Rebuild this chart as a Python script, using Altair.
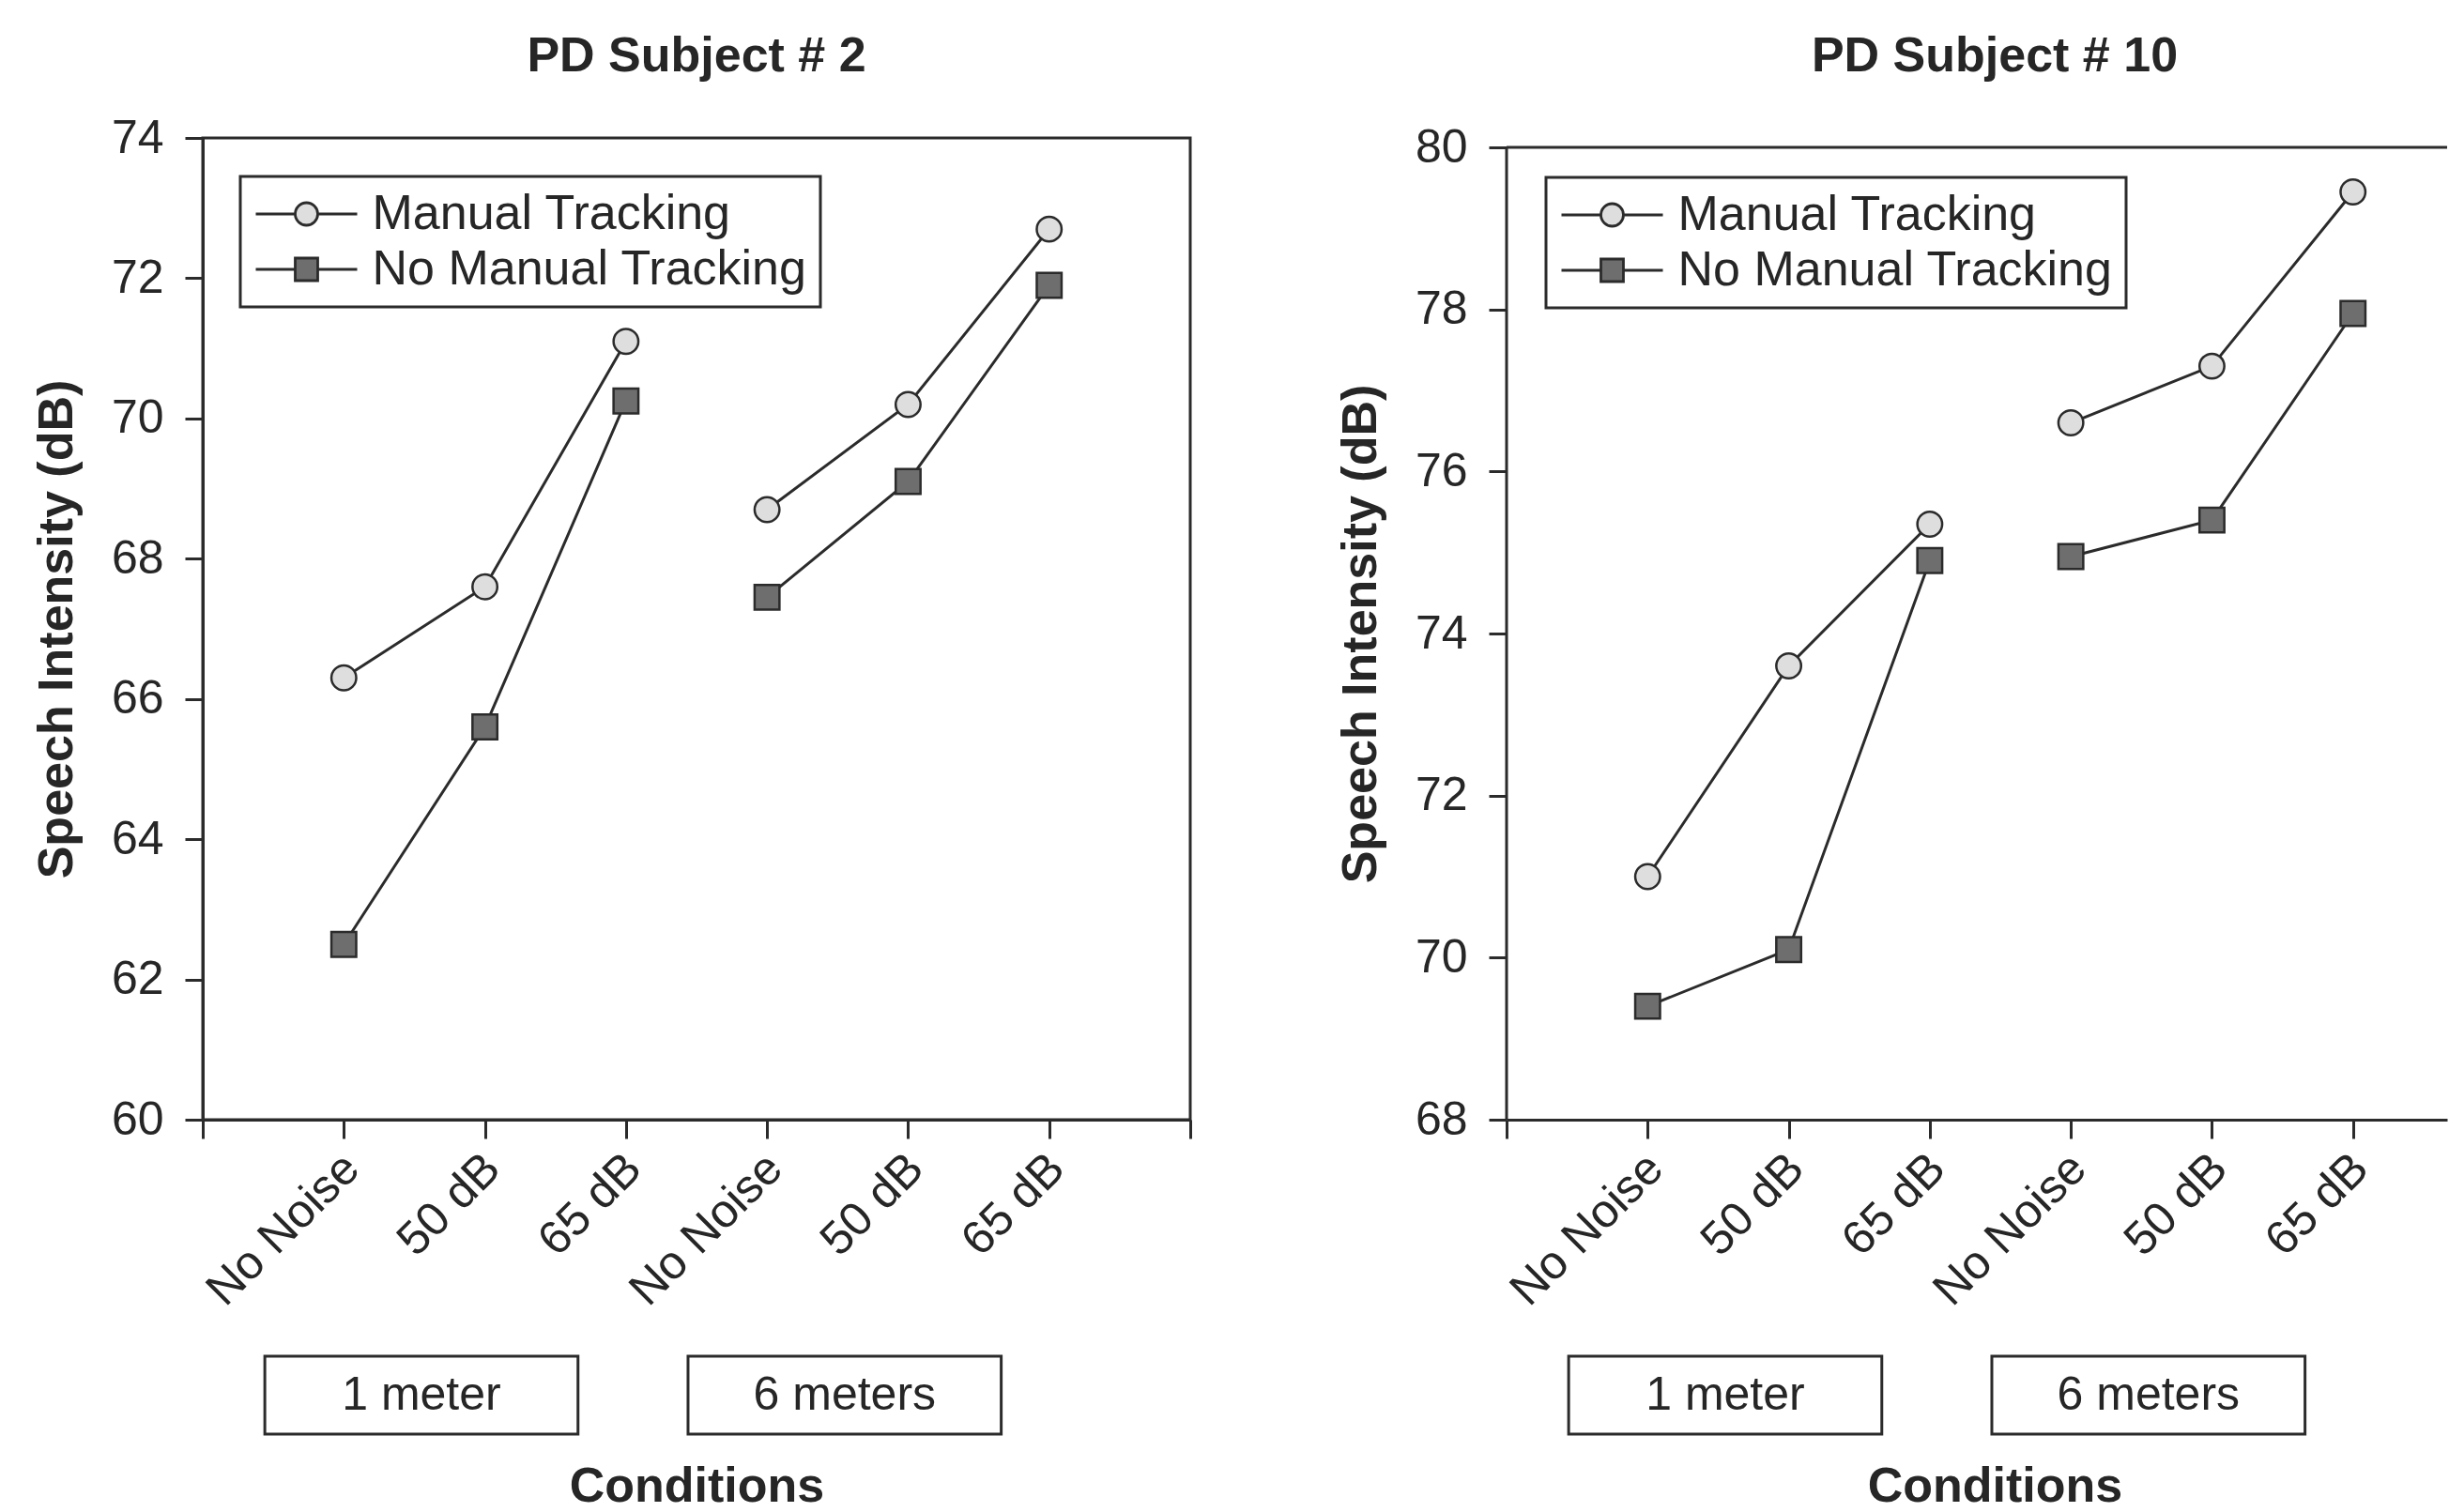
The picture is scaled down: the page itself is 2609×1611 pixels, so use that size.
import altair as alt
import pandas as pd

# ---------------- data ----------------
conditions = ["No Noise", "50 dB", "65 dB", "No Noise", "50 dB", "65 dB"]
distances = ["1 meter", "1 meter", "1 meter", "6 meters", "6 meters", "6 meters"]
series_names = ["Manual Tracking", "No Manual Tracking"]

s2_manual = [66.3, 67.6, 71.1, 68.7, 70.2, 72.7]
s2_no_manual = [62.5, 65.6, 70.25, 67.45, 69.1, 71.9]

s10_manual = [71.0, 73.6, 75.35, 76.6, 77.3, 79.45]
s10_no_manual = [69.4, 70.1, 74.9, 74.95, 75.4, 77.95]

s2_y_ticks = [60, 62, 64, 66, 68, 70, 72, 74]
s10_y_ticks = [68, 70, 72, 74, 76, 78, 80]

# ---------------- style ----------------
FONT = "Liberation Sans"
TEXT = "#262626"
INK = "#2b2b2b"
FS = 50
MARKER_SHAPES = ["circle", "square"]
MARKER_FILLS = ["#dedede", "#6e6e6e"]
# legend keys: marker with a line stub on each side (unit = marker half-size)
LEGEND_KEYS = [
    "M-4.5,0H-1M1,0H4.5M1,0A1,1 0 1,1 -1,0A1,1 0 1,1 1,0Z",
    "M-4.5,0H-1M1,0H4.5M-1,-1H1V1H-1Z",
]
BOX_SHIFT = -0.45   # box centre relative to its group centre (x units)
BOX_HALF = 1.11     # half width of a distance box (x units)


def panel_data(manual, no_manual):
    rows = []
    for sname, vals in zip(series_names, [manual, no_manual]):
        for i, (c, d, v) in enumerate(zip(conditions, distances, vals)):
            rows.append({"pos": i + 1, "condition": c, "distance": d,
                         "series": sname, "value": v})
    return pd.DataFrame(rows)


def box_data():
    rows = []
    for d in dict.fromkeys(distances):
        ps = [i + 1 for i, dd in enumerate(distances) if dd == d]
        c = sum(ps) / len(ps) + BOX_SHIFT
        rows.append({"label": d, "start": c - BOX_HALF, "end": c + BOX_HALF, "mid": c})
    return pd.DataFrame(rows)


def make_panel(title_text, manual, no_manual, y_domain, y_ticks, frame_top,
               width, height, x_max, x_tick_vals, full_frame, title_dx, title_offset,
               legend_x, legend_y, xtitle_x, ytitle_y):
    df = panel_data(manual, no_manual)
    label_arr = [""] + conditions + [""]
    label_expr = "[" + ",".join("'" + l + "'" for l in label_arr) + "][datum.value]"

    xscale = alt.Scale(domain=[0, x_max], nice=False, zero=False)
    yscale = alt.Scale(domain=y_domain, nice=False, zero=False)

    x_axis = alt.Axis(values=x_tick_vals, labelExpr=label_expr, labelAngle=315,
                      labelAlign="right", labelBaseline="middle", labelFont=FONT,
                      labelFontSize=FS, labelColor=TEXT, labelPadding=24, labelOffset=8,
                      labelOverlap=False, labelFlush=False, labelBound=False,
                      labelLimit=1000,
                      tickSize=20, tickWidth=3, tickColor=INK,
                      domainColor=INK, domainWidth=3, grid=False,
                      title="Conditions", titleFont=FONT, titleFontSize=52,
                      titleFontWeight="bold", titleColor=TEXT, titleX=xtitle_x,
                      titleY=406, titleBaseline="alphabetic", titleAlign="center")
    y_axis = alt.Axis(values=y_ticks, format="d", labelFont=FONT, labelFontSize=FS,
                      labelColor=TEXT, labelPadding=23, tickSize=19, tickWidth=3,
                      tickColor=INK, domain=full_frame, domainColor=INK, domainWidth=3,
                      grid=False, labelOverlap=False, labelFlush=False,
                      title="Speech Intensity (dB)", titleFont=FONT, titleFontSize=52,
                      titleFontWeight="bold", titleColor=TEXT, titleAngle=270,
                      titleX=-156, titleY=ytitle_y, titleAlign="center",
                      titleBaseline="middle")

    key_legend = alt.Legend(orient="none", legendX=legend_x, legendY=legend_y,
                            direction="vertical", symbolSize=576, symbolStrokeWidth=2.8,
                            symbolStrokeColor=INK, symbolOffset=30.5,
                            labelFont=FONT, labelFontSize=52, labelColor=TEXT,
                            labelOffset=44, labelLimit=2000, padding=14, rowPadding=7,
                            strokeColor=INK, fillColor="white")

    base = alt.Chart(df)
    lines = base.mark_line(strokeWidth=3, color=INK).encode(
        x=alt.X("pos:Q", scale=xscale, axis=x_axis),
        y=alt.Y("value:Q", scale=yscale, axis=y_axis),
        detail=["series:N", "distance:N"],
    )
    point_layers = []
    for sname, shp, fll in zip(series_names, MARKER_SHAPES, MARKER_FILLS):
        point_layers.append(
            base.transform_filter(alt.datum.series == sname).mark_point(
                shape=shp, fill=fll, filled=True, size=700, stroke=INK,
                strokeWidth=2.5, opacity=1).encode(x="pos:Q", y="value:Q")
        )
    # legend-only layer (no marks drawn): keys combine line and marker
    keys = base.transform_filter("false").mark_point(filled=True, opacity=1).encode(
        x="pos:Q",
        y="value:Q",
        shape=alt.Shape("series:N", title=None,
                        scale=alt.Scale(domain=series_names, range=LEGEND_KEYS),
                        legend=key_legend),
        fill=alt.Fill("series:N", title=None,
                      scale=alt.Scale(domain=series_names, range=MARKER_FILLS),
                      legend=key_legend),
        stroke=alt.Stroke("series:N", title=None,
                          scale=alt.Scale(domain=series_names, range=[INK, INK]),
                          legend=key_legend),
    )

    bdf = box_data()
    rects = alt.Chart(bdf).mark_rect(fill="white", stroke=INK, strokeWidth=3).encode(
        x=alt.X("start:Q"), x2=alt.X2("end:Q"), y=alt.value(1298), y2=alt.value(1381))
    btext = alt.Chart(bdf).mark_text(font=FONT, fontSize=FS, color=TEXT,
                                     baseline="middle", align="center").encode(
        x="mid:Q", y=alt.value(1340), text="label:N")

    layers = [lines] + point_layers + [keys, rects, btext]
    if not full_frame:
        fdf = pd.DataFrame({"f": [0]})
        left_rule = alt.Chart(fdf).mark_rule(color=INK, strokeWidth=3).encode(
            x=alt.datum(0), y=alt.datum(y_domain[0]), y2=alt.datum(frame_top))
        top_rule = alt.Chart(fdf).mark_rule(color=INK, strokeWidth=3).encode(
            x=alt.datum(0), x2=alt.datum(x_max), y=alt.datum(frame_top))
        layers = [left_rule, top_rule] + layers

    view = (alt.ViewBackground(stroke=INK, strokeWidth=3) if full_frame
            else alt.ViewBackground(stroke="transparent"))

    return alt.layer(*layers).properties(
        width=width, height=height, view=view,
        title=alt.TitleParams(title_text, font=FONT, fontSize=52, fontWeight="bold",
                              color=TEXT, anchor="middle", frame="group",
                              baseline="alphabetic", offset=title_offset, dx=title_dx),
    )


left = make_panel("PD Subject # 2", s2_manual, s2_no_manual, [60, 74], s2_y_ticks, 74,
                  width=1052, height=1046, x_max=7, x_tick_vals=list(range(0, 8)),
                  full_frame=True, title_dx=0, title_offset=-6, legend_x=40, legend_y=41,
                  xtitle_x=526, ytitle_y=523)

unit = 1052 / 7
right_w = 1002
right = make_panel("PD Subject # 10", s10_manual, s10_no_manual, [68, 80.116], s10_y_ticks,
                   80, width=right_w, height=1046, x_max=right_w / unit,
                   x_tick_vals=list(range(0, 7)), full_frame=False,
                   title_dx=19, title_offset=4, legend_x=42, legend_y=42,
                   xtitle_x=520, ytitle_y=528)

chart = alt.hconcat(left, right, spacing=337, bounds="flush").resolve_scale(
    shape="independent", fill="independent", stroke="independent"
).resolve_legend(
    shape="independent", fill="independent", stroke="independent"
).properties(
    padding={"left": 32, "top": 32, "right": 0, "bottom": 0},
    background="white",
).configure_legend(strokeWidth=3)

chart.save("out.html", embed_options={"renderer": "svg", "actions": False})
